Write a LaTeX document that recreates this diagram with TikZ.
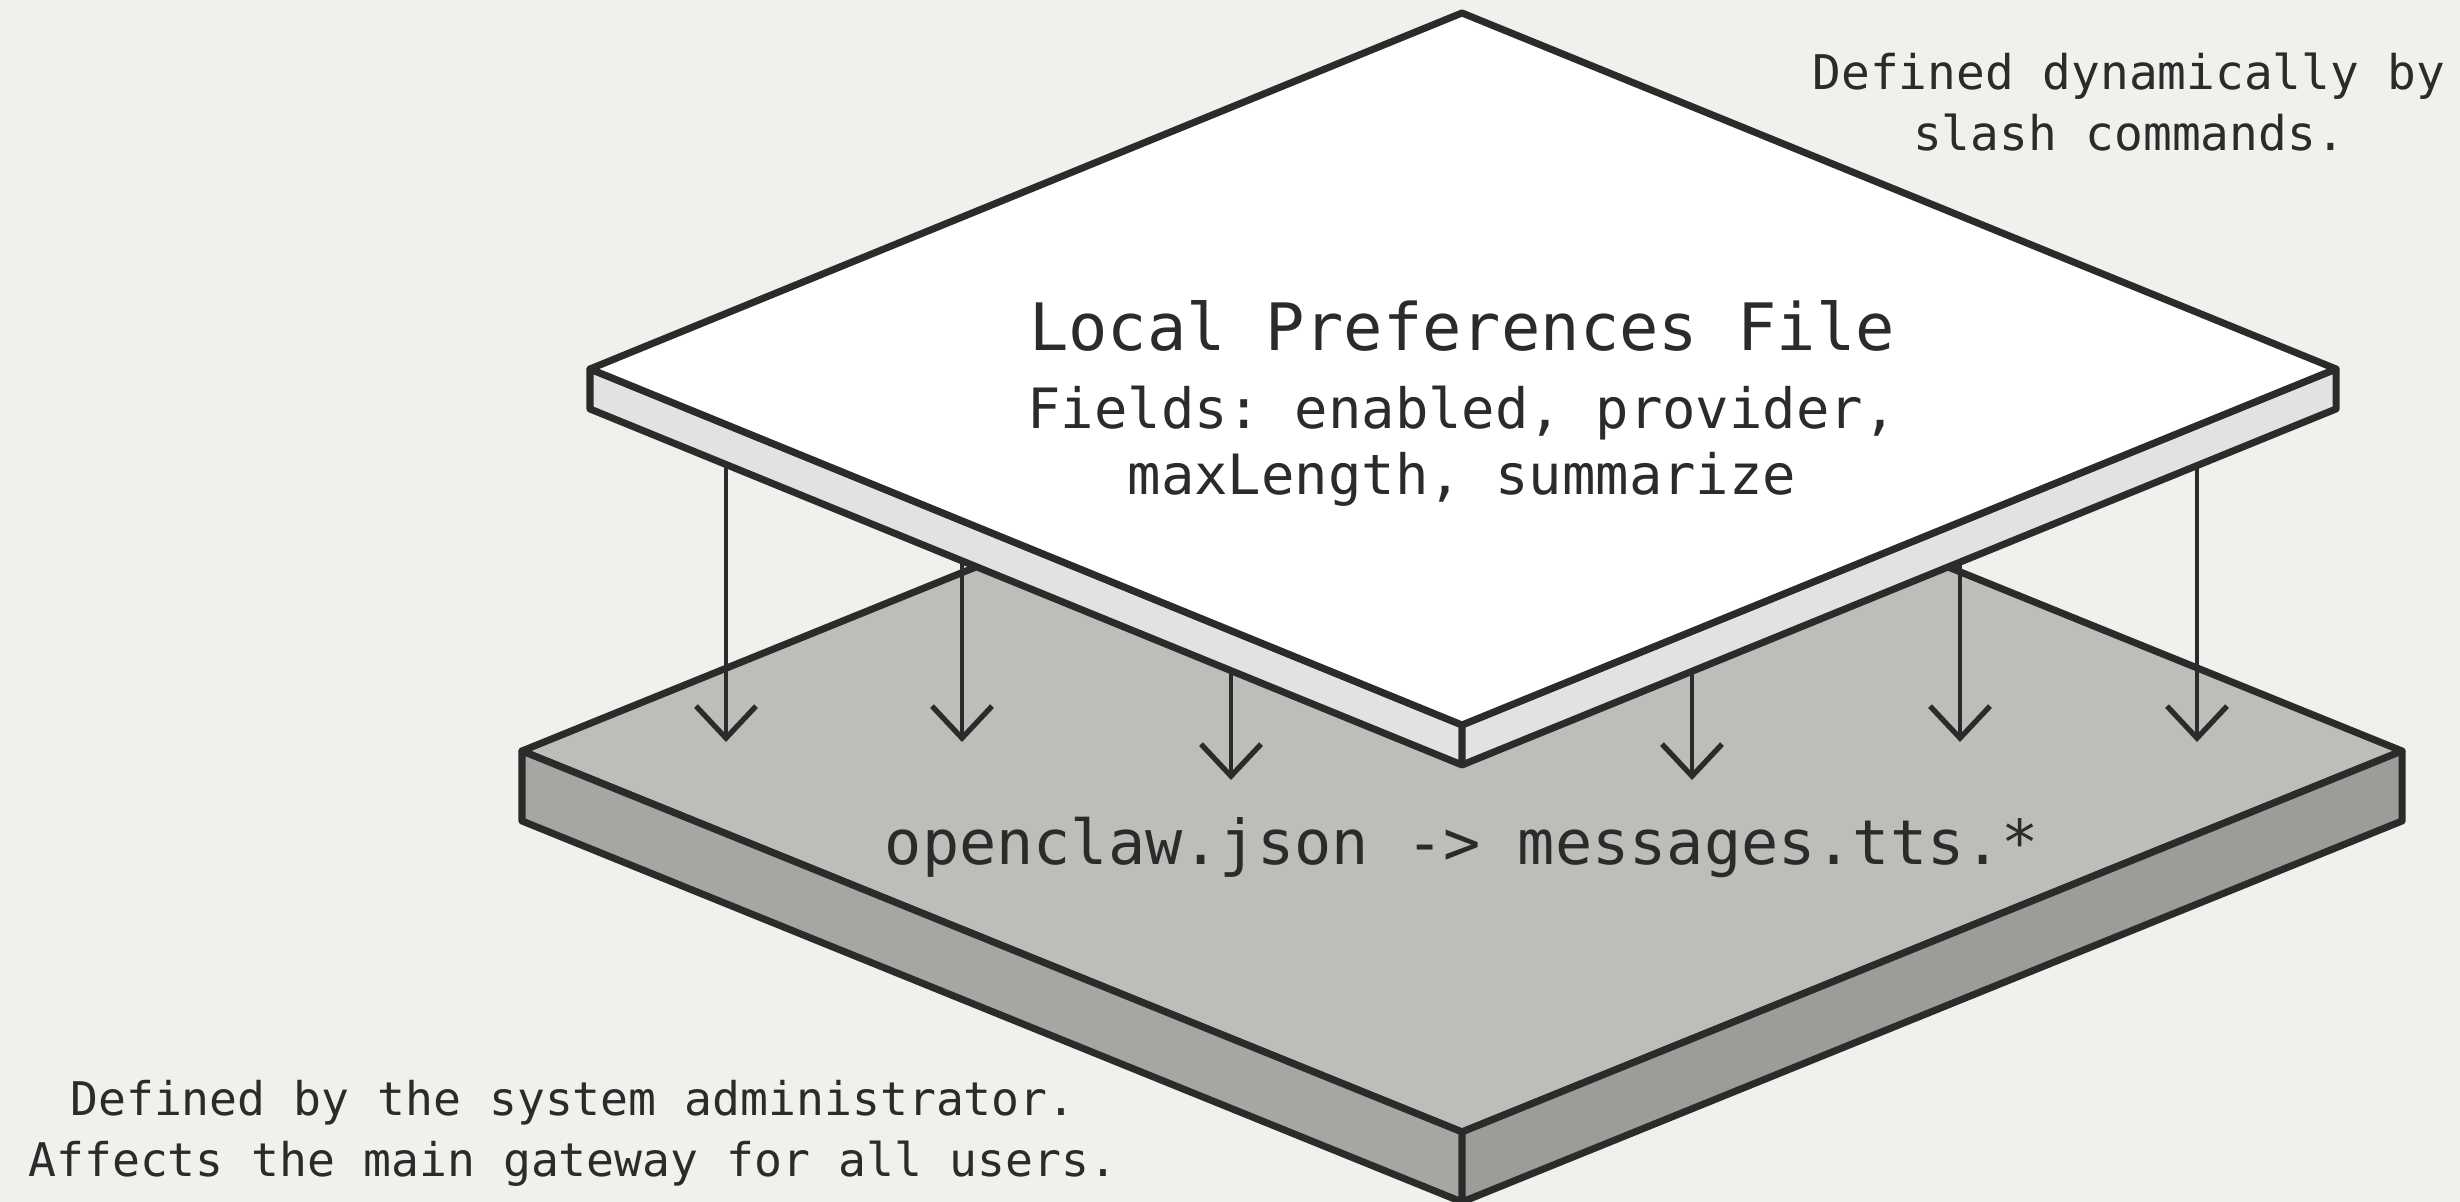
\documentclass[tikz,border=0pt]{standalone}
\usepackage{fontspec}
\setmonofont{DejaVu Sans Mono}
\usetikzlibrary{arrows.meta}

\definecolor{paper}{HTML}{F0F0EC}
\definecolor{ink}{HTML}{2B2B2B}
\definecolor{basetop}{HTML}{BDBDB9}
\definecolor{baseleft}{HTML}{A6A6A3}
\definecolor{baseright}{HTML}{9C9C99}
\definecolor{prefside}{HTML}{E2E2E0}

\tikzset{
	face/.style={draw=ink, line width=2pt, line join=round},
	feed/.style={draw=ink, line width=1pt,
		-{Straight Barb[length=3.2mm,width=6mm,line width=1.5pt]}},
	title/.style={text=ink, font=\ttfamily\fontsize{18.6}{22}\selectfont},
	fields/.style={text=ink, align=center, font=\ttfamily\fontsize{15.8}{18.8}\selectfont},
	codeline/.style={text=ink, font=\ttfamily\fontsize{17.6}{21}\selectfont},
	note/.style={text=ink, align=center, font=\ttfamily\fontsize{13.6}{17.4}\selectfont},
	smallnote/.style={note, font=\ttfamily\fontsize{13.2}{17.4}\selectfont},
}

\begin{document}
\begin{tikzpicture}
	%\draw[help lines] (0,0) grid (24.6,12.02);
	\useasboundingbox (0,0) rectangle (24.6,12.02);
	\fill[paper] (0,0) rectangle (24.6,12.02);

	\path
	coordinate (baseN) at (14.62,8.32)
	coordinate (baseW) at (5.22,4.51)
	coordinate (baseE) at (24.02,4.51)
	coordinate (baseS) at (14.62,0.70)
	coordinate (baseWd) at (5.22,3.81)
	coordinate (baseEd) at (24.02,3.81)
	coordinate (baseSd) at (14.62,0.00)
	coordinate (prefN) at (14.62,11.89)
	coordinate (prefW) at (5.90,8.33)
	coordinate (prefE) at (23.36,8.33)
	coordinate (prefS) at (14.62,4.77)
	coordinate (prefWd) at (5.90,7.93)
	coordinate (prefEd) at (23.36,7.93)
	coordinate (prefSd) at (14.62,4.37)
	coordinate (src1) at (7.26,8)
	coordinate (src2) at (9.62,8)
	coordinate (src3) at (12.31,8)
	coordinate (src4) at (16.92,8)
	coordinate (src5) at (19.60,8)
	coordinate (src6) at (21.97,8)
	coordinate (dst1) at (7.26,4.60)
	coordinate (dst2) at (9.62,4.60)
	coordinate (dst3) at (12.31,4.22)
	coordinate (dst4) at (16.92,4.22)
	coordinate (dst5) at (19.60,4.60)
	coordinate (dst6) at (21.97,4.60)
	;

	% base slab
	\filldraw[face, fill=basetop] (baseN) -- (baseE) -- (baseS) -- (baseW) -- cycle;
	\filldraw[face, fill=baseleft] (baseW) -- (baseS) -- (baseSd) -- (baseWd) -- cycle;
	\filldraw[face, fill=baseright] (baseS) -- (baseE) -- (baseEd) -- (baseSd) -- cycle;

	% arrows down
	\draw[feed] (src1) -- (dst1);
	\draw[feed] (src2) -- (dst2);
	\draw[feed] (src3) -- (dst3);
	\draw[feed] (src4) -- (dst4);
	\draw[feed] (src5) -- (dst5);
	\draw[feed] (src6) -- (dst6);

	% preferences slab
	\filldraw[face, fill=prefside] (prefW) -- (prefS) -- (prefSd) -- (prefWd) -- cycle;
	\filldraw[face, fill=prefside] (prefS) -- (prefE) -- (prefEd) -- (prefSd) -- cycle;
	\filldraw[face, fill=white] (prefN) -- (prefE) -- (prefS) -- (prefW) -- cycle;

	\node[title] (prefTitle) at (14.62,8.76) {Local Preferences File};
	\node[fields] (prefFields) at (14.62,7.56) {Fields: enabled, provider,\\maxLength, summarize};
	\node[codeline] (baseText) at (14.62,3.55) {openclaw.json -> messages.tts.*};

	\node[note] (prefNote) at (21.29,11.0) {Defined dynamically by\\slash commands.};
	\node[smallnote] (baseNote) at (5.73,0.69) {Defined by the system administrator.\\Affects the main gateway for all users.};

\end{tikzpicture}
\end{document}
